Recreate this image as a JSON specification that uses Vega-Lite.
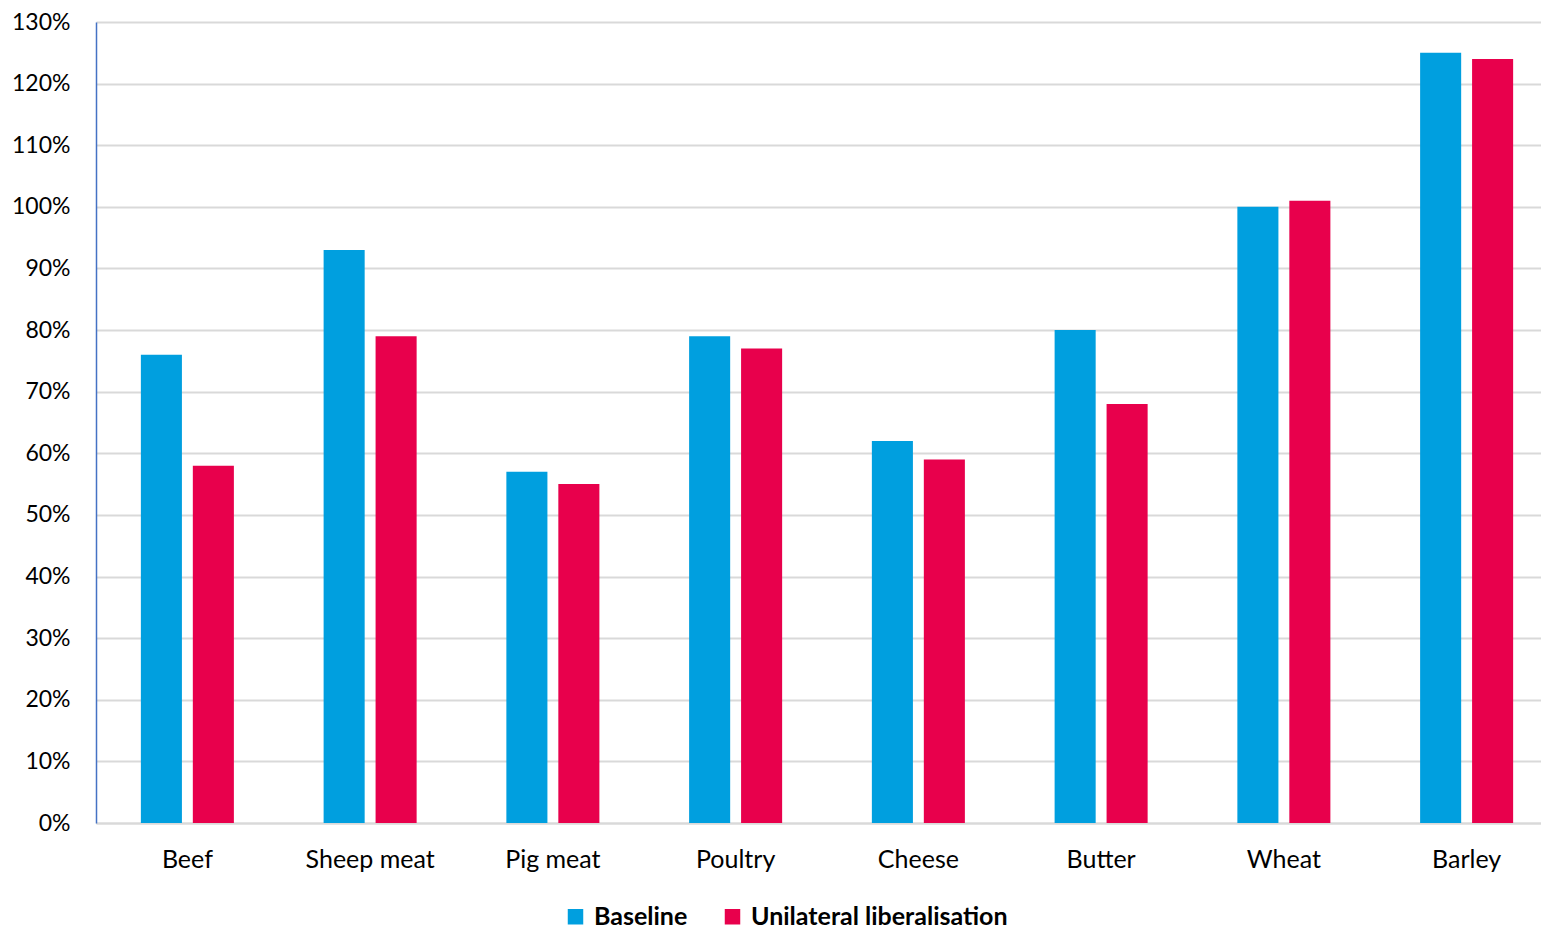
{
  "$schema": "https://vega.github.io/schema/vega-lite/v6.json",
  "autosize": {"type": "none"},
  "padding": {"left": 96, "top": 22, "right": 0, "bottom": 107},
  "width": 1445,
  "height": 801,
  "background": "white",
  "config": {
    "view": {"stroke": null},
    "font": "Lato",
    "axis": {"labelFont": "Lato", "labelFontSize": 23, "labelColor": "#000000", "titleFont": "Lato"},
    "legend": {"labelFont": "Lato"}
  },
  "data": {
    "values": [
      {"product": "Beef", "scenario": "Baseline", "value": 0.76},
      {"product": "Beef", "scenario": "Unilateral liberalisation", "value": 0.58},
      {"product": "Sheep meat", "scenario": "Baseline", "value": 0.93},
      {"product": "Sheep meat", "scenario": "Unilateral liberalisation", "value": 0.79},
      {"product": "Pig meat", "scenario": "Baseline", "value": 0.57},
      {"product": "Pig meat", "scenario": "Unilateral liberalisation", "value": 0.55},
      {"product": "Poultry", "scenario": "Baseline", "value": 0.79},
      {"product": "Poultry", "scenario": "Unilateral liberalisation", "value": 0.77},
      {"product": "Cheese", "scenario": "Baseline", "value": 0.62},
      {"product": "Cheese", "scenario": "Unilateral liberalisation", "value": 0.59},
      {"product": "Butter", "scenario": "Baseline", "value": 0.80},
      {"product": "Butter", "scenario": "Unilateral liberalisation", "value": 0.68},
      {"product": "Wheat", "scenario": "Baseline", "value": 1.00},
      {"product": "Wheat", "scenario": "Unilateral liberalisation", "value": 1.01},
      {"product": "Barley", "scenario": "Baseline", "value": 1.25},
      {"product": "Barley", "scenario": "Unilateral liberalisation", "value": 1.24}
    ]
  },
  "mark": {"type": "bar"},
  "encoding": {
    "x": {
      "field": "product", "type": "nominal", "sort": null, "title": null,
      "scale": {"range": [0, 1462], "paddingInner": 0.491, "paddingOuter": 0.2455},
      "axis": {"labelAngle": 0, "labelPadding": 36, "labelFontSize": 25, "ticks": false, "domainColor": "#d9d9d9", "domainWidth": 2, "labelBaseline": "middle", "labelLimit": 300}
    },
    "xOffset": {
      "field": "scenario", "type": "nominal", "sort": null,
      "scale": {"paddingInner": 0.21, "paddingOuter": 0}
    },
    "y": {
      "field": "value", "type": "quantitative", "title": null,
      "scale": {"domain": [0, 1.3], "nice": false},
      "axis": {"format": ".0%", "values": [0, 0.1, 0.2, 0.3, 0.4, 0.5, 0.6, 0.7, 0.8, 0.9, 1.0, 1.1, 1.2, 1.3],
        "ticks": false, "labelPadding": 26, "gridColor": "#d9d9d9", "gridWidth": 2,
        "domainColor": "#4472C4", "domainWidth": 1.5}
    },
    "color": {
      "field": "scenario", "type": "nominal", "title": null, "sort": null,
      "scale": {"domain": ["Baseline", "Unilateral liberalisation"], "range": ["#009FDF", "#E8004C"]},
      "legend": {"orient": "none", "legendX": 467, "legendY": 882, "direction": "horizontal",
        "symbolType": "square", "symbolSize": 240, "symbolStrokeWidth": 0, "labelFontSize": 25, "labelFontWeight": "bold",
        "labelColor": "#000000", "columnPadding": 32, "labelOffset": 6, "labelLimit": 400}
    }
  }
}
